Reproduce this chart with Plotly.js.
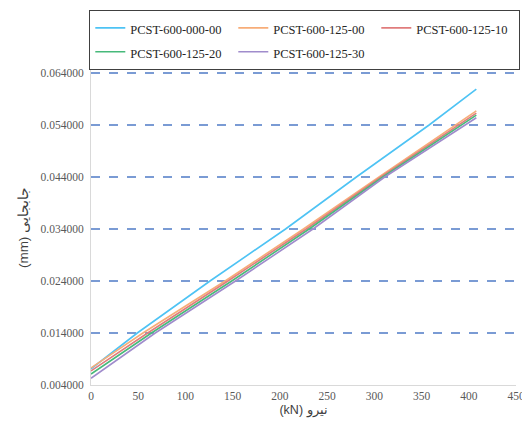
<!DOCTYPE html>
<html>
<head>
<meta charset="utf-8">
<script src="https://cdn.plot.ly/plotly-3.0.1.min.js"></script>
<style>html,body{margin:0;padding:0;background:#fff;}#chart{width:522px;height:421px;}</style>
</head>
<body>
<div id="chart"></div>
<script>
// Series names
const seriesNames = ["PCST-600-000-00", "PCST-600-125-00", "PCST-600-125-10", "PCST-600-125-20", "PCST-600-125-30"];
// Load (kN) values, per series
const load_000_00 = [0, 49, 126, 206, 281, 358, 408];
const load_125_00 = [0, 55, 142, 225, 305, 408];
const load_125_10 = [0, 60, 145, 228, 307, 408];
const load_125_20 = [0, 64, 149, 231, 309, 408];
const load_125_30 = [0, 68, 153, 235, 311, 408];
// Displacement (mm) values
const disp_000_00 = [0.0071, 0.014, 0.024, 0.034, 0.044, 0.054, 0.0609];
const disp_125_00 = [0.0073, 0.014, 0.024, 0.034, 0.044, 0.0567];
const disp_125_10 = [0.0067, 0.014, 0.024, 0.034, 0.044, 0.0563];
const disp_125_20 = [0.0061, 0.014, 0.024, 0.034, 0.044, 0.0559];
const disp_125_30 = [0.0053, 0.014, 0.024, 0.034, 0.044, 0.0554];
// Tick values
const yTicks = [0.004, 0.014, 0.024, 0.034, 0.044, 0.054, 0.064];
const xTicks = [0, 50, 100, 150, 200, 250, 300, 350, 400, 450];

const xs = [load_000_00, load_125_00, load_125_10, load_125_20, load_125_30];
const ys = [disp_000_00, disp_125_00, disp_125_10, disp_125_20, disp_125_30];
const colors = ["#4ec3f4", "#f7ad78", "#e07c7c", "#47b97a", "#a08ccc"];

const traces = seriesNames.map((n, i) => ({
  type: "scatter", mode: "lines",
  name: '<span style="font-size:12.5px">' + n + '</span>',
  x: xs[i], y: ys[i],
  line: {color: colors[i], width: 1.6}
}));

const tickFont = {family: "Liberation Serif, Times New Roman, serif", size: 11.5, color: "#595959"};
const layout = {
  width: 522, height: 421,
  margin: {l: 91, r: 6, t: 70, b: 36},
  paper_bgcolor: "#fff", plot_bgcolor: "#fff",
  showlegend: true,
  legend: {
    orientation: "h", x: -0.004, xanchor: "left", y: 1.0, yanchor: "bottom",
    bgcolor: "#fff", bordercolor: "#404040", borderwidth: 1,
    font: {family: "Liberation Serif, Times New Roman, serif", size: 16, color: "#262626"},
    entrywidth: 98, entrywidthmode: "pixels",
    itemwidth: 30
  },
  xaxis: {
    range: [0, 450], tickvals: xTicks, ticks: "", showgrid: false, zeroline: false,
    showline: true, linecolor: "#d9d9d9", linewidth: 1,
    tickfont: tickFont, ticklabeloverflow: "allow",
    title: {text: "(kN) نیرو", font: {family: "Liberation Sans, Arial, sans-serif", size: 12.5, color: "#404040"}, standoff: 4}
  },
  yaxis: {
    range: [0.004, 0.0645769], tickvals: yTicks, tickformat: ".6f", ticks: "",
    showgrid: true, gridcolor: "#7a9bd4", griddash: "dash", gridwidth: 1.5,
    zeroline: false, showline: true, linecolor: "#d9d9d9", linewidth: 1,
    tickfont: tickFont, ticklabelstandoff: 4,
    title: {text: "(mm) جابجایی", font: {family: "Liberation Sans, Arial, sans-serif", size: 13.5, color: "#404040"}, standoff: 8}
  }
};

Plotly.newPlot("chart", traces, layout, {displayModeBar: false, staticPlot: true});
</script>
</body>
</html>
